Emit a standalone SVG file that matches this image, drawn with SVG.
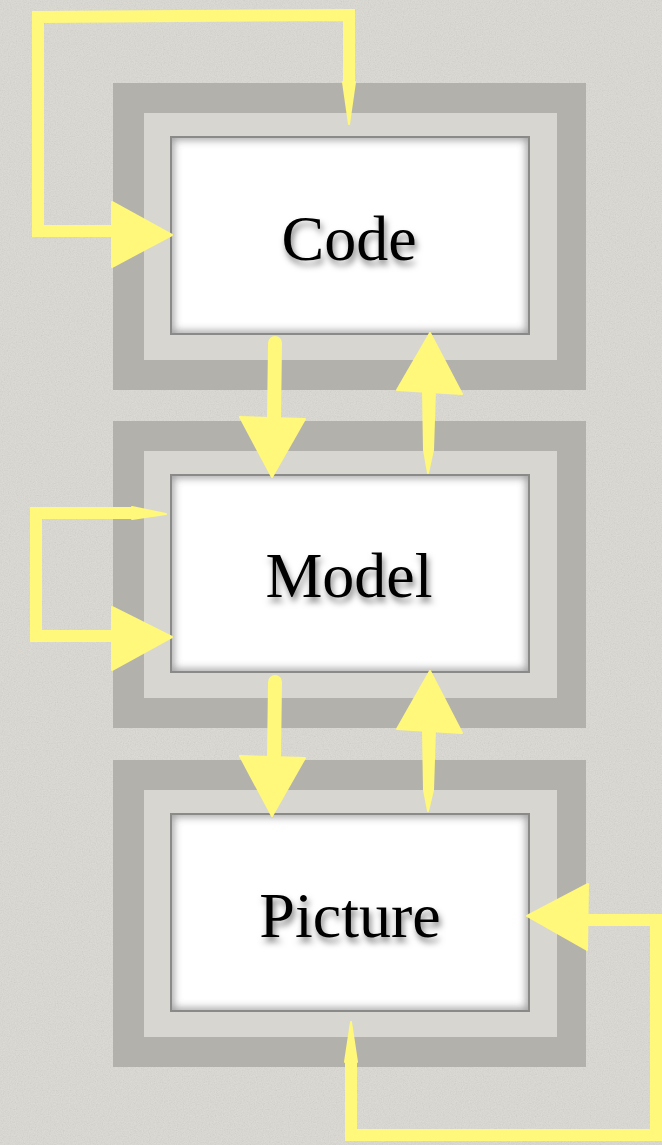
<svg xmlns="http://www.w3.org/2000/svg" width="662" height="1145" viewBox="0 0 662 1145">
<style>
.dark{fill:#b3b1ac}
.light{fill:#d8d6d0}
.box{fill:#ffffff}
.edge{fill:none;stroke:#8a8a88;stroke-width:2}
.label{font-family:"Liberation Serif","DejaVu Serif",serif;font-size:64px;fill:#000;text-anchor:middle}
.line{fill:none;stroke:#fff87a;stroke-width:12;stroke-linejoin:miter;stroke-linecap:butt}
.shaft{fill:none;stroke:#fff87a;stroke-width:14;stroke-linecap:round}
.head{fill:#fff87a;stroke:#fff87a;stroke-width:2;stroke-linejoin:round}
</style>
<defs>
<filter id="noise" x="0" y="0" width="100%" height="100%">
<feTurbulence type="fractalNoise" baseFrequency="0.85" numOctaves="2" seed="4"/>
<feColorMatrix type="matrix" values="1 0 0 0 0  1 0 0 0 0  1 0 0 0 0  0 0 0 0 0.10"/>
</filter>
<filter id="blur" x="-10%" y="-10%" width="120%" height="120%">
<feGaussianBlur stdDeviation="4"/>
</filter>
<filter id="tshadow" x="-20%" y="-30%" width="140%" height="160%">
<feDropShadow dx="2" dy="5" stdDeviation="3" flood-color="#000" flood-opacity="0.5"/>
</filter>
<clipPath id="boxclip" clipPathUnits="userSpaceOnUse">
<rect x="171" y="54" width="358" height="197"/>
</clipPath>
</defs>
<rect x="0" y="0" width="662" height="1145" fill="#dbd9d3"/>
<rect x="0" y="0" width="662" height="1145" filter="url(#noise)"/>

<g id="code" transform="translate(0,83)">
<rect class="dark" x="113" y="0" width="473" height="307"/>
<rect class="light" x="144" y="30" width="413" height="247"/>
<rect class="box" x="171" y="54" width="358" height="197"/>
<g clip-path="url(#boxclip)"><rect x="169" y="52" width="362" height="201" fill="none" stroke="#555" stroke-width="9" filter="url(#blur)" opacity="0.6"/></g>
<rect class="edge" x="171" y="54" width="358" height="197"/>
<text class="label" x="349" y="177" filter="url(#tshadow)">Code</text>
</g>

<g id="model" transform="translate(0,421)">
<rect class="dark" x="113" y="0" width="473" height="307"/>
<rect class="light" x="144" y="30" width="413" height="247"/>
<rect class="box" x="171" y="54" width="358" height="197"/>
<g clip-path="url(#boxclip)"><rect x="169" y="52" width="362" height="201" fill="none" stroke="#555" stroke-width="9" filter="url(#blur)" opacity="0.6"/></g>
<rect class="edge" x="171" y="54" width="358" height="197"/>
<text class="label" x="349" y="176" filter="url(#tshadow)">Model</text>
</g>

<g id="picture" transform="translate(0,760)">
<rect class="dark" x="113" y="0" width="473" height="307"/>
<rect class="light" x="144" y="30" width="413" height="247"/>
<rect class="box" x="171" y="54" width="358" height="197"/>
<g clip-path="url(#boxclip)"><rect x="169" y="52" width="362" height="201" fill="none" stroke="#555" stroke-width="9" filter="url(#blur)" opacity="0.6"/></g>
<rect class="edge" x="171" y="54" width="358" height="197"/>
<text class="label" x="350" y="177" filter="url(#tshadow)">Picture</text>
</g>

<g id="connectors">
<!-- Code self loop -->
<path class="line" d="M349,82 L349,15 L38,17 L38,231 L120,231"/>
<polygon class="head" points="343,82 355,82 349,124"/>
<polygon class="head" points="112,202 172,235 112,267"/>
<!-- Code to Model -->
<path class="shaft" d="M275,343 L274,420"/>
<polygon class="head" points="240,417 305,419 272,477"/>
<!-- Model to Code -->
<polygon class="head" points="423,390 435,390 433,450 428,473 424,450"/>
<polygon class="head" points="397,390 462,394 430,333"/>
<!-- Model self loop -->
<path class="line" d="M132,513 L36,513 L36,636 L120,636"/>
<polygon class="head" points="132,507 132,519 166,514"/>
<polygon class="head" points="112,607 172,637 112,670"/>
<!-- Model to Picture -->
<path class="shaft" d="M275,682 L274,758"/>
<polygon class="head" points="240,756 305,758 272,816"/>
<!-- Picture to Model -->
<polygon class="head" points="423,729 435,729 433,790 428,811 424,790"/>
<polygon class="head" points="397,729 462,733 430,671"/>
<!-- Picture self loop -->
<path class="line" d="M351,1062 L351,1135 L656,1135 L656,920 L582,920"/>
<polygon class="head" points="345,1062 357,1062 351,1022"/>
<polygon class="head" points="588,884 527,916 587,950"/>
</g>
</svg>
